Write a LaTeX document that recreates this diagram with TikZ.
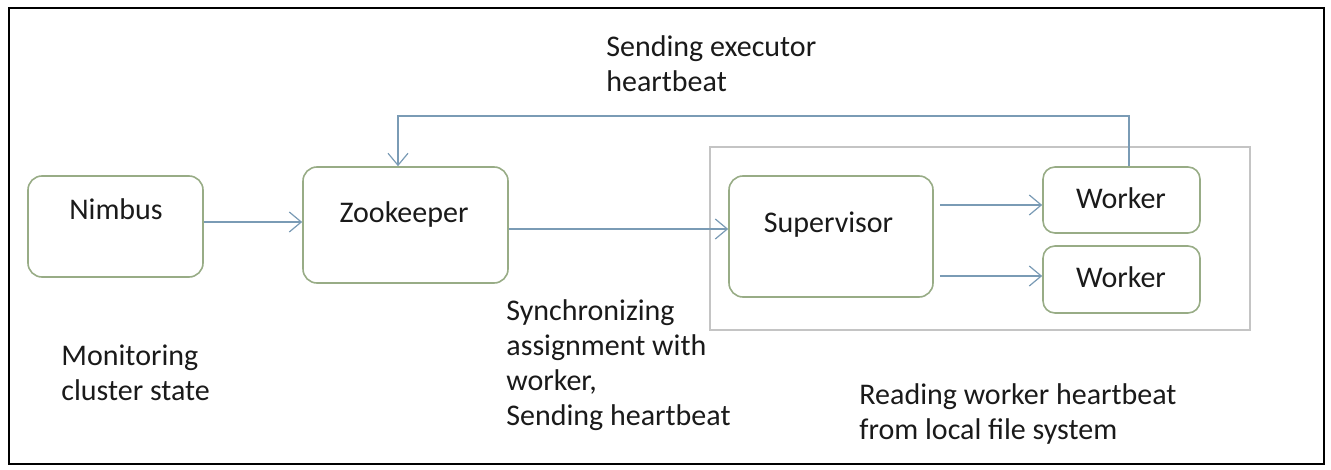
\documentclass[tikz,border=0pt]{standalone}
\usepackage{fontspec}
\setmainfont{Carlito}
\usetikzlibrary{arrows.meta}
\definecolor{boxline}{HTML}{98AC86}
\definecolor{arrowc}{HTML}{7A9BB5}
\definecolor{grpline}{HTML}{C4C4C4}
\definecolor{txt}{HTML}{1A1A1A}
\begin{document}
\begin{tikzpicture}[x=0.5pt,y=-0.5pt,
  box/.style={draw=boxline,line width=0.8pt,rounded corners=7pt,inner sep=0pt},
  wbox/.style={box,rounded corners=6pt},
  grp/.style={draw=grpline,line width=0.6pt,inner sep=0pt},
  lbl/.style={font=\fontsize{15}{17.5}\selectfont,text=txt,inner sep=0pt,anchor=base},
  note/.style={font=\fontsize{15}{17.5}\selectfont,text=txt,inner sep=0pt,align=left,anchor=base west},
  arr/.style={draw=arrowc,line width=0.6pt,-{Straight Barb[length=6pt,width=10pt]}}]
\useasboundingbox (0,0) rectangle (1331,470);
\draw[black,line width=1pt] (9,8) rectangle (1324,464);

% group container
\node[grp,minimum width=270pt,minimum height=91.5pt] (group) at (980,238.5) {};

% boxes
\node[box,minimum width=87.5pt,minimum height=50.5pt] (nimbus) at (115.5,226.5) {};
\node[box,minimum width=102.5pt,minimum height=58pt] (zookeeper) at (405.5,225) {};
\node[box,minimum width=102pt,minimum height=60.5pt] (supervisor) at (831,236.5) {};
\node[wbox,minimum width=78.5pt,minimum height=33pt] (worker1) at (1121.5,200) {};
\node[wbox,minimum width=78.5pt,minimum height=33.5pt] (worker2) at (1121.5,279.5) {};

% box labels
\node[lbl] (nimbuslbl) at (116,220) {Nimbus};
\node[lbl] (zookeeperlbl) at (404,222) {Zookeeper};
\node[lbl] (supervisorlbl) at (828.5,232) {Supervisor};
\node[lbl] (worker1lbl) at (1121,208) {Worker};
\node[lbl] (worker2lbl) at (1121,287) {Worker};

% notes (anchor is the baseline of the last line)
\node[note] (sendexec) at (606,92) {Sending executor\\heartbeat};
\node[note] (monitor) at (61,400) {Monitoring\\cluster state};
\node[note] (sync) at (506,425) {Synchronizing\\assignment with\\worker,\\Sending heartbeat};
\node[note] (reading) at (859,439) {Reading worker heartbeat\\from local file system};

% connectors
\coordinate (a1) at ([yshift=2.25pt]nimbus.east);
\draw[arr] (a1) -- (a1 -| zookeeper.west);
\coordinate (a2) at ([yshift=-2pt]zookeeper.east);
\draw[arr] (a2) -- (a2 -| supervisor.west);
\coordinate (a3) at ([xshift=3pt]supervisor.east |- worker1.west);
\draw[arr] ([yshift=-2.5pt]a3) -- ([yshift=-2.5pt]a3 -| worker1.west);
\coordinate (a4) at ([xshift=3pt]supervisor.east |- worker2.west);
\draw[arr] ([yshift=1.75pt]a4) -- ([yshift=1.75pt]a4 -| worker2.west);
\coordinate (fbstart) at ([xshift=3.75pt]worker1.north);
\coordinate (fbtop) at (fbstart |- 0,116);
\coordinate (fbend) at ([xshift=-3.75pt]zookeeper.north);
\draw[arr] (fbstart) -- (fbtop) -- (fbtop -| fbend) -- (fbend);
\end{tikzpicture}
\end{document}
